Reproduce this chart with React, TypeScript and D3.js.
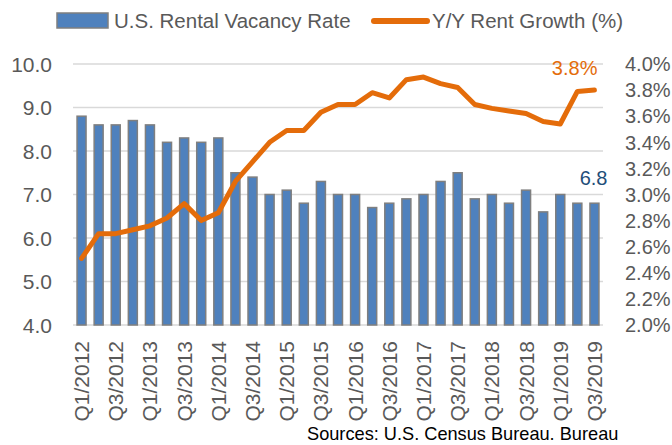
import React from "react";
import * as d3 from "d3";

const quarters: string[] = [
  "Q1/2012","Q2/2012","Q3/2012","Q4/2012",
  "Q1/2013","Q2/2013","Q3/2013","Q4/2013",
  "Q1/2014","Q2/2014","Q3/2014","Q4/2014",
  "Q1/2015","Q2/2015","Q3/2015","Q4/2015",
  "Q1/2016","Q2/2016","Q3/2016","Q4/2016",
  "Q1/2017","Q2/2017","Q3/2017","Q4/2017",
  "Q1/2018","Q2/2018","Q3/2018","Q4/2018",
  "Q1/2019","Q2/2019","Q3/2019",
];

const vacancyRate: number[] = [
  8.8, 8.6, 8.6, 8.7,
  8.6, 8.2, 8.3, 8.2,
  8.3, 7.5, 7.4, 7.0,
  7.1, 6.8, 7.3, 7.0,
  7.0, 6.7, 6.8, 6.9,
  7.0, 7.3, 7.5, 6.9,
  7.0, 6.8, 7.1, 6.6,
  7.0, 6.8, 6.8,
];

const rentGrowth: number[] = [
  2.51, 2.70, 2.70, 2.73,
  2.76, 2.82, 2.93, 2.80,
  2.86, 3.10, 3.25, 3.40,
  3.49, 3.49, 3.63, 3.69,
  3.69, 3.78, 3.74, 3.88,
  3.90, 3.85, 3.82, 3.69,
  3.66, 3.64, 3.62, 3.56,
  3.54, 3.79, 3.80,
];

const leftTicks: number[] = [4, 5, 6, 7, 8, 9, 10];
const rightTicks: number[] = [2.0, 2.2, 2.4, 2.6, 2.8, 3.0, 3.2, 3.4, 3.6, 3.8, 4.0];

const seriesNames = ["U.S. Rental Vacancy Rate", "Y/Y Rent Growth (%)"];
const sourceText = "Sources: U.S. Census Bureau. Bureau";

const W = 672;
const H = 445;
const FONT = "'Liberation Sans', Arial, sans-serif";
const BAR_FILL = "#4F81BD";
const BAR_STROKE = "#7F7F7F";
const LINE_COLOR = "#E46C0A";
const GRID = "#D9D9D9";
const TEXT = "#595959";

export default function App() {
  const plotLeft = 73;
  const plotRight = 603;
  const plotTop = 64;
  const plotBottom = 325;

  const x = d3.scalePoint<string>().domain(quarters).range([plotLeft, plotRight]).padding(0.5);
  const yL = d3.scaleLinear().domain([4, 10]).range([plotBottom, plotTop]);
  const yR = d3.scaleLinear().domain([2, 4]).range([plotBottom, plotTop]);
  const barW = 9;

  const line = d3
    .line<number>()
    .x((_, i) => x(quarters[i]) as number)
    .y((d) => yR(d));

  const lastIdx = quarters.length - 1;
  const lastX = x(quarters[lastIdx]) as number;

  return (
    <svg
      width={W}
      height={H}
      style={{ position: "absolute", left: 0, top: 0, background: "#fff" }}
      fontFamily={FONT}
    >
      <rect x={0} y={0} width={W} height={H} fill="#fff" />
      {leftTicks.map((t) => (
        <line key={"g" + t} x1={plotLeft} x2={plotRight} y1={yL(t)} y2={yL(t)} stroke={GRID} strokeWidth={1.5} />
      ))}
      {leftTicks.map((t) => (
        <text key={"l" + t} x={52} y={yL(t)} dy="0.36em" textAnchor="end" fontSize={21} fill={TEXT}>
          {t.toFixed(1)}
        </text>
      ))}
      {rightTicks.map((t) => (
        <text key={"r" + t} x={625} y={yR(t)} dy="0.36em" textAnchor="start" fontSize={20} fill={TEXT}>
          {t.toFixed(1) + "%"}
        </text>
      ))}
      {vacancyRate.map((v, i) => (
        <rect
          key={"b" + i}
          x={(x(quarters[i]) as number) - barW / 2}
          y={yL(v)}
          width={barW}
          height={yL(4) - yL(v)}
          fill={BAR_FILL}
          stroke={BAR_STROKE}
          strokeWidth={1.5}
        />
      ))}
      <path d={line(rentGrowth) || ""} fill="none" stroke={LINE_COLOR} strokeWidth={5} strokeLinejoin="round" strokeLinecap="round" />
      <text x={lastX + 3} y={75} textAnchor="end" fontSize={20} fill={LINE_COLOR}>
        {rentGrowth[lastIdx].toFixed(1) + "%"}
      </text>
      <text x={lastX + 13} y={185} textAnchor="end" fontSize={20} fill="#1F4E79">
        {vacancyRate[lastIdx].toFixed(1)}
      </text>
      {quarters.map((q, i) =>
        i % 2 === 0 ? (
          <text
            key={"x" + i}
            transform={`translate(${x(q)},${341}) rotate(-90)`}
            dy="0.36em"
            textAnchor="end"
            fontSize={21}
            fill={TEXT}
          >
            {q}
          </text>
        ) : null
      )}
      <rect x={57} y={13} width={51} height={15} fill={BAR_FILL} stroke={BAR_STROKE} strokeWidth={1.5} />
      <text x={114} y={28} fontSize={20.5} fill={TEXT}>
        {seriesNames[0]}
      </text>
      <line x1={374} x2={427} y1={21} y2={21} stroke={LINE_COLOR} strokeWidth={6} strokeLinecap="round" />
      <text x={432} y={28} fontSize={20.5} fill={TEXT}>
        {seriesNames[1]}
      </text>
      <text x={307} y={440} fontSize={18.2} fill="#000">
        {sourceText}
      </text>
    </svg>
  );
}
